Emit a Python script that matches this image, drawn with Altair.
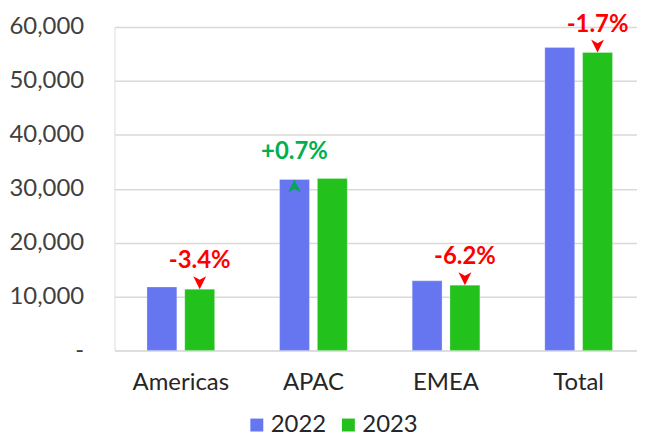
import altair as alt
import pandas as pd

regions = ["Americas", "APAC", "EMEA", "Total"]
years = ["2022", "2023"]
v2022 = [11750, 31700, 12900, 56200]
v2023 = [11350, 31900, 12100, 55250]
changes = ["-3.4%", "+0.7%", "-6.2%", "-1.7%"]

bar_colors = ["#6576F0", "#22C11C"]
FONT = "Lato"

rows = []
for r, a, b in zip(regions, v2022, v2023):
    rows.append({"region": r, "year": "2022", "value": a})
    rows.append({"region": r, "year": "2023", "value": b})
bars_df = pd.DataFrame(rows)

DOWN = "M-1,-2 L0,-1.45 L1,-2 L0,0 Z"
UP = "M-1,2 L0,1.45 L1,2 L0,0 Z"
ann = []
for r, a, b, c in zip(regions, v2022, v2023, changes):
    pos = c.startswith("+")
    ann.append({
        "region": r,
        "year": "2022" if pos else "2023",
        "value": a if pos else b,
        "label": c,
        "tcolor": "#00B050" if pos else "#FF0000",
        "acolor": "#0BA45A" if pos else "#FF0000",
        "shape": UP if pos else DOWN,
    })
ann_df = pd.DataFrame(ann)

xscale = alt.Scale(domain=regions, range=[0, 533], paddingInner=0, paddingOuter=0)
xoff = alt.Scale(domain=years, paddingInner=0.2105, paddingOuter=0.859)
yscale = alt.Scale(domain=[0, 60000], nice=False)

x_enc = alt.X("region:N", scale=xscale, sort=regions, title=None,
              axis=alt.Axis(labelAngle=0, ticks=False, domain=False, labelFontSize=24,
                            labelFont=FONT, labelColor="#262626", labelPadding=20))
y_enc = alt.Y("value:Q", scale=yscale, title=None,
              axis=alt.Axis(values=[0, 10000, 20000, 30000, 40000, 50000, 60000],
                            labelExpr="datum.value == 0 ? '-' : format(datum.value, ',')",
                            ticks=False, domain=False, grid=True, gridColor="#D9D9D9",
                            gridWidth=1.5, labelFontSize=24, labelFont=FONT,
                            labelColor="#404040", labelPadding=31))

bars = alt.Chart(bars_df).mark_bar(stroke="#FFFFFF", strokeOpacity=0.25, strokeWidth=1).encode(
    x=x_enc,
    xOffset=alt.XOffset("year:N", scale=xoff),
    y=y_enc,
    color=alt.Color("year:N", scale=alt.Scale(domain=years, range=bar_colors),
                    legend=alt.Legend(title=None, orient="none", direction="horizontal",
                                      legendX=131, legendY=388, labelFontSize=24,
                                      labelFont=FONT, labelColor="#262626",
                                      symbolType="square", symbolSize=169,
                                      symbolStrokeWidth=0, labelOffset=2,
                                      columnPadding=10, padding=0)),
)

labels = alt.Chart(ann_df).mark_text(dy=-28, fontSize=24, fontWeight="bold", font=FONT,
                                     baseline="middle", align="center").encode(
    x=alt.X("region:N", scale=xscale, sort=regions),
    xOffset=alt.XOffset("year:N", scale=xoff),
    y=alt.Y("value:Q", scale=yscale),
    text="label:N",
    fill=alt.Fill("tcolor:N", scale=None, legend=None),
)

arrows = alt.Chart(ann_df).mark_point(filled=True, size=169, opacity=1, strokeWidth=0).encode(
    x=alt.X("region:N", scale=xscale, sort=regions),
    xOffset=alt.XOffset("year:N", scale=xoff),
    y=alt.Y("value:Q", scale=yscale),
    shape=alt.Shape("shape:N", scale=None, legend=None),
    fill=alt.Fill("acolor:N", scale=None, legend=None),
)

chart = alt.layer(bars, labels, arrows).properties(
    width=525, height=325,
    autosize=alt.AutoSizeParams(type="none"),
    padding={"left": 107, "top": 18, "right": 0, "bottom": 86},
).configure_view(stroke=None).configure(background="white")

chart.save("out.html", embed_options={"renderer": "svg", "actions": False})
